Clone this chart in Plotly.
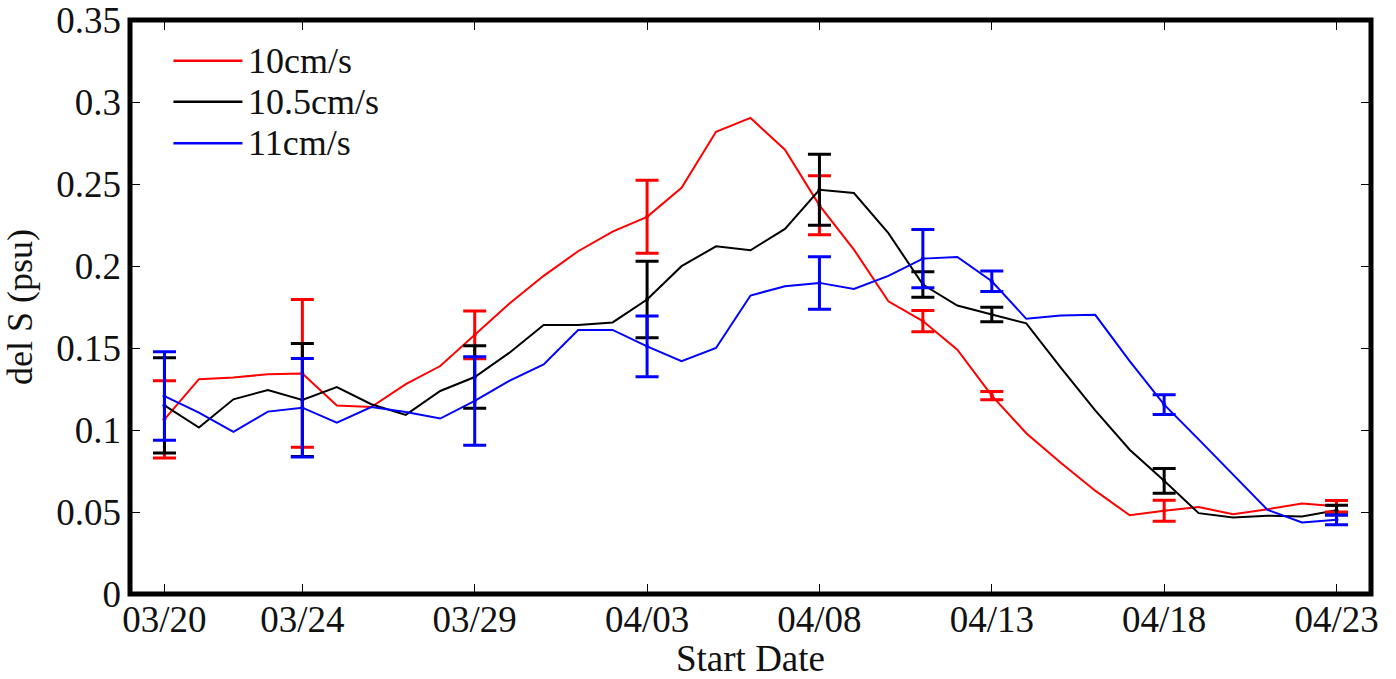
import plotly.graph_objects as go
import pandas as pd

# ---- data ----
dates = pd.date_range("2013-03-20", "2013-04-23", freq="D")

s10 = [0.1065, 0.131, 0.132, 0.134, 0.1345, 0.115, 0.114, 0.128, 0.139, 0.158,
       0.177, 0.194, 0.209, 0.221, 0.230, 0.2477, 0.2818, 0.2903, 0.2709, 0.237,
       0.210, 0.1785, 0.1664, 0.149, 0.121, 0.098, 0.080, 0.063, 0.048, 0.0507,
       0.053, 0.0487, 0.0517, 0.0552, 0.0535]
s105 = [0.115, 0.1015, 0.1187, 0.1244, 0.1183, 0.1262, 0.1157, 0.1092, 0.1238, 0.1323,
        0.147, 0.164, 0.164, 0.1656, 0.1796, 0.1999, 0.212, 0.2096, 0.2226, 0.2465,
        0.2445, 0.220, 0.1887, 0.1759, 0.1704, 0.165, 0.138, 0.112, 0.088, 0.069,
        0.0493, 0.0467, 0.0477, 0.0473, 0.0511]
s11 = [0.1207, 0.1106, 0.0988, 0.1112, 0.1136, 0.1045, 0.114, 0.111, 0.107, 0.1177,
       0.130, 0.140, 0.161, 0.161, 0.151, 0.142, 0.150, 0.182, 0.1877, 0.1897,
       0.186, 0.194, 0.2045, 0.2055, 0.1907, 0.1678, 0.1698, 0.1702, 0.142, 0.1155,
       0.0943, 0.073, 0.0513, 0.0436, 0.0452]

err_idx = [0, 4, 9, 14, 19, 22, 24, 29, 34]
err10 = [0.0235, 0.045, 0.0145, 0.0223, 0.018, 0.0065, 0.0025, 0.0064, 0.0035]
err105 = [0.029, 0.0345, 0.019, 0.0233, 0.0216, 0.0078, 0.0044, 0.0076, 0.003]
err11 = [0.027, 0.030, 0.027, 0.0185, 0.016, 0.0178, 0.0063, 0.006, 0.003]

names = ["10cm/s", "10.5cm/s", "11cm/s"]
colors = ["#ff0000", "#000000", "#0000ff"]

xtick_labels = ["03/20", "03/24", "03/29", "04/03", "04/08", "04/13", "04/18", "04/23"]
xtick_vals = ["2013-03-20", "2013-03-24", "2013-03-29", "2013-04-03", "2013-04-08",
              "2013-04-13", "2013-04-18", "2013-04-23"]
ytick_vals = [0, 0.05, 0.1, 0.15, 0.2, 0.25, 0.3, 0.35]
ytick_labels = ["0", "0.05", "0.1", "0.15", "0.2", "0.25", "0.3", "0.35"]

FONT = "Liberation Serif, Times New Roman, serif"

fig = go.Figure()
series = [s10, s105, s11]
errs = [err10, err105, err11]

for ys, nm, c in zip(series, names, colors):
    fig.add_trace(go.Scatter(x=dates, y=ys, mode="lines", name=nm,
                             line=dict(color=c, width=2), showlegend=False))

for ys, e, nm, c in zip(series, errs, names, colors):
    fig.add_trace(go.Scatter(
        x=[dates[i] for i in err_idx], y=[ys[i] for i in err_idx],
        mode="markers", name=nm, showlegend=False,
        marker=dict(color=c, size=4),
        error_y=dict(type="data", array=e, visible=True, color=c,
                     thickness=3, width=11.5)))

# legend drawn manually (long line samples like the original)
leg_y = [0.929, 0.8577, 0.7852]
for nm, c, yy in zip(names, colors, leg_y):
    fig.add_shape(type="line", xref="paper", yref="paper",
                  x0=0.035, x1=0.0906, y0=yy, y1=yy,
                  line=dict(color=c, width=2.5))
    fig.add_annotation(xref="paper", yref="paper", x=0.0935, y=yy,
                       text=nm, showarrow=False, xanchor="left", yanchor="middle",
                       font=dict(family=FONT, size=36, color="#111"))

# thick frame
fig.add_shape(type="rect", xref="paper", yref="paper", x0=0, x1=1, y0=0, y1=1,
              line=dict(color="black", width=5), layer="above")

fig.update_layout(
    width=1396, height=679,
    margin=dict(l=130, r=25, t=20, b=85),
    paper_bgcolor="white", plot_bgcolor="white",
    font=dict(family=FONT, size=37, color="#111"),
    showlegend=False,
)
fig.update_xaxes(
    type="date", range=["2013-03-19", "2013-04-24"],
    tickvals=xtick_vals, ticktext=xtick_labels,
    ticks="inside", ticklen=10, tickwidth=1, tickcolor="black",
    mirror="ticks", showline=False, showgrid=False, zeroline=False,
    automargin=False, ticklabeloverflow="allow",
    title=dict(text="Start Date", font=dict(size=37)),
    tickfont=dict(size=37),
)
fig.update_yaxes(
    range=[0, 0.35], tickvals=ytick_vals, ticktext=ytick_labels,
    ticks="inside", ticklen=10, tickwidth=1, tickcolor="black",
    mirror="ticks", showline=False, showgrid=False, zeroline=False,
    automargin=False, ticklabelstandoff=8, ticklabeloverflow="allow",
    title=dict(text="del S (psu)", font=dict(size=36)),
    tickfont=dict(size=37),
)

fig.write_html("out.html")
